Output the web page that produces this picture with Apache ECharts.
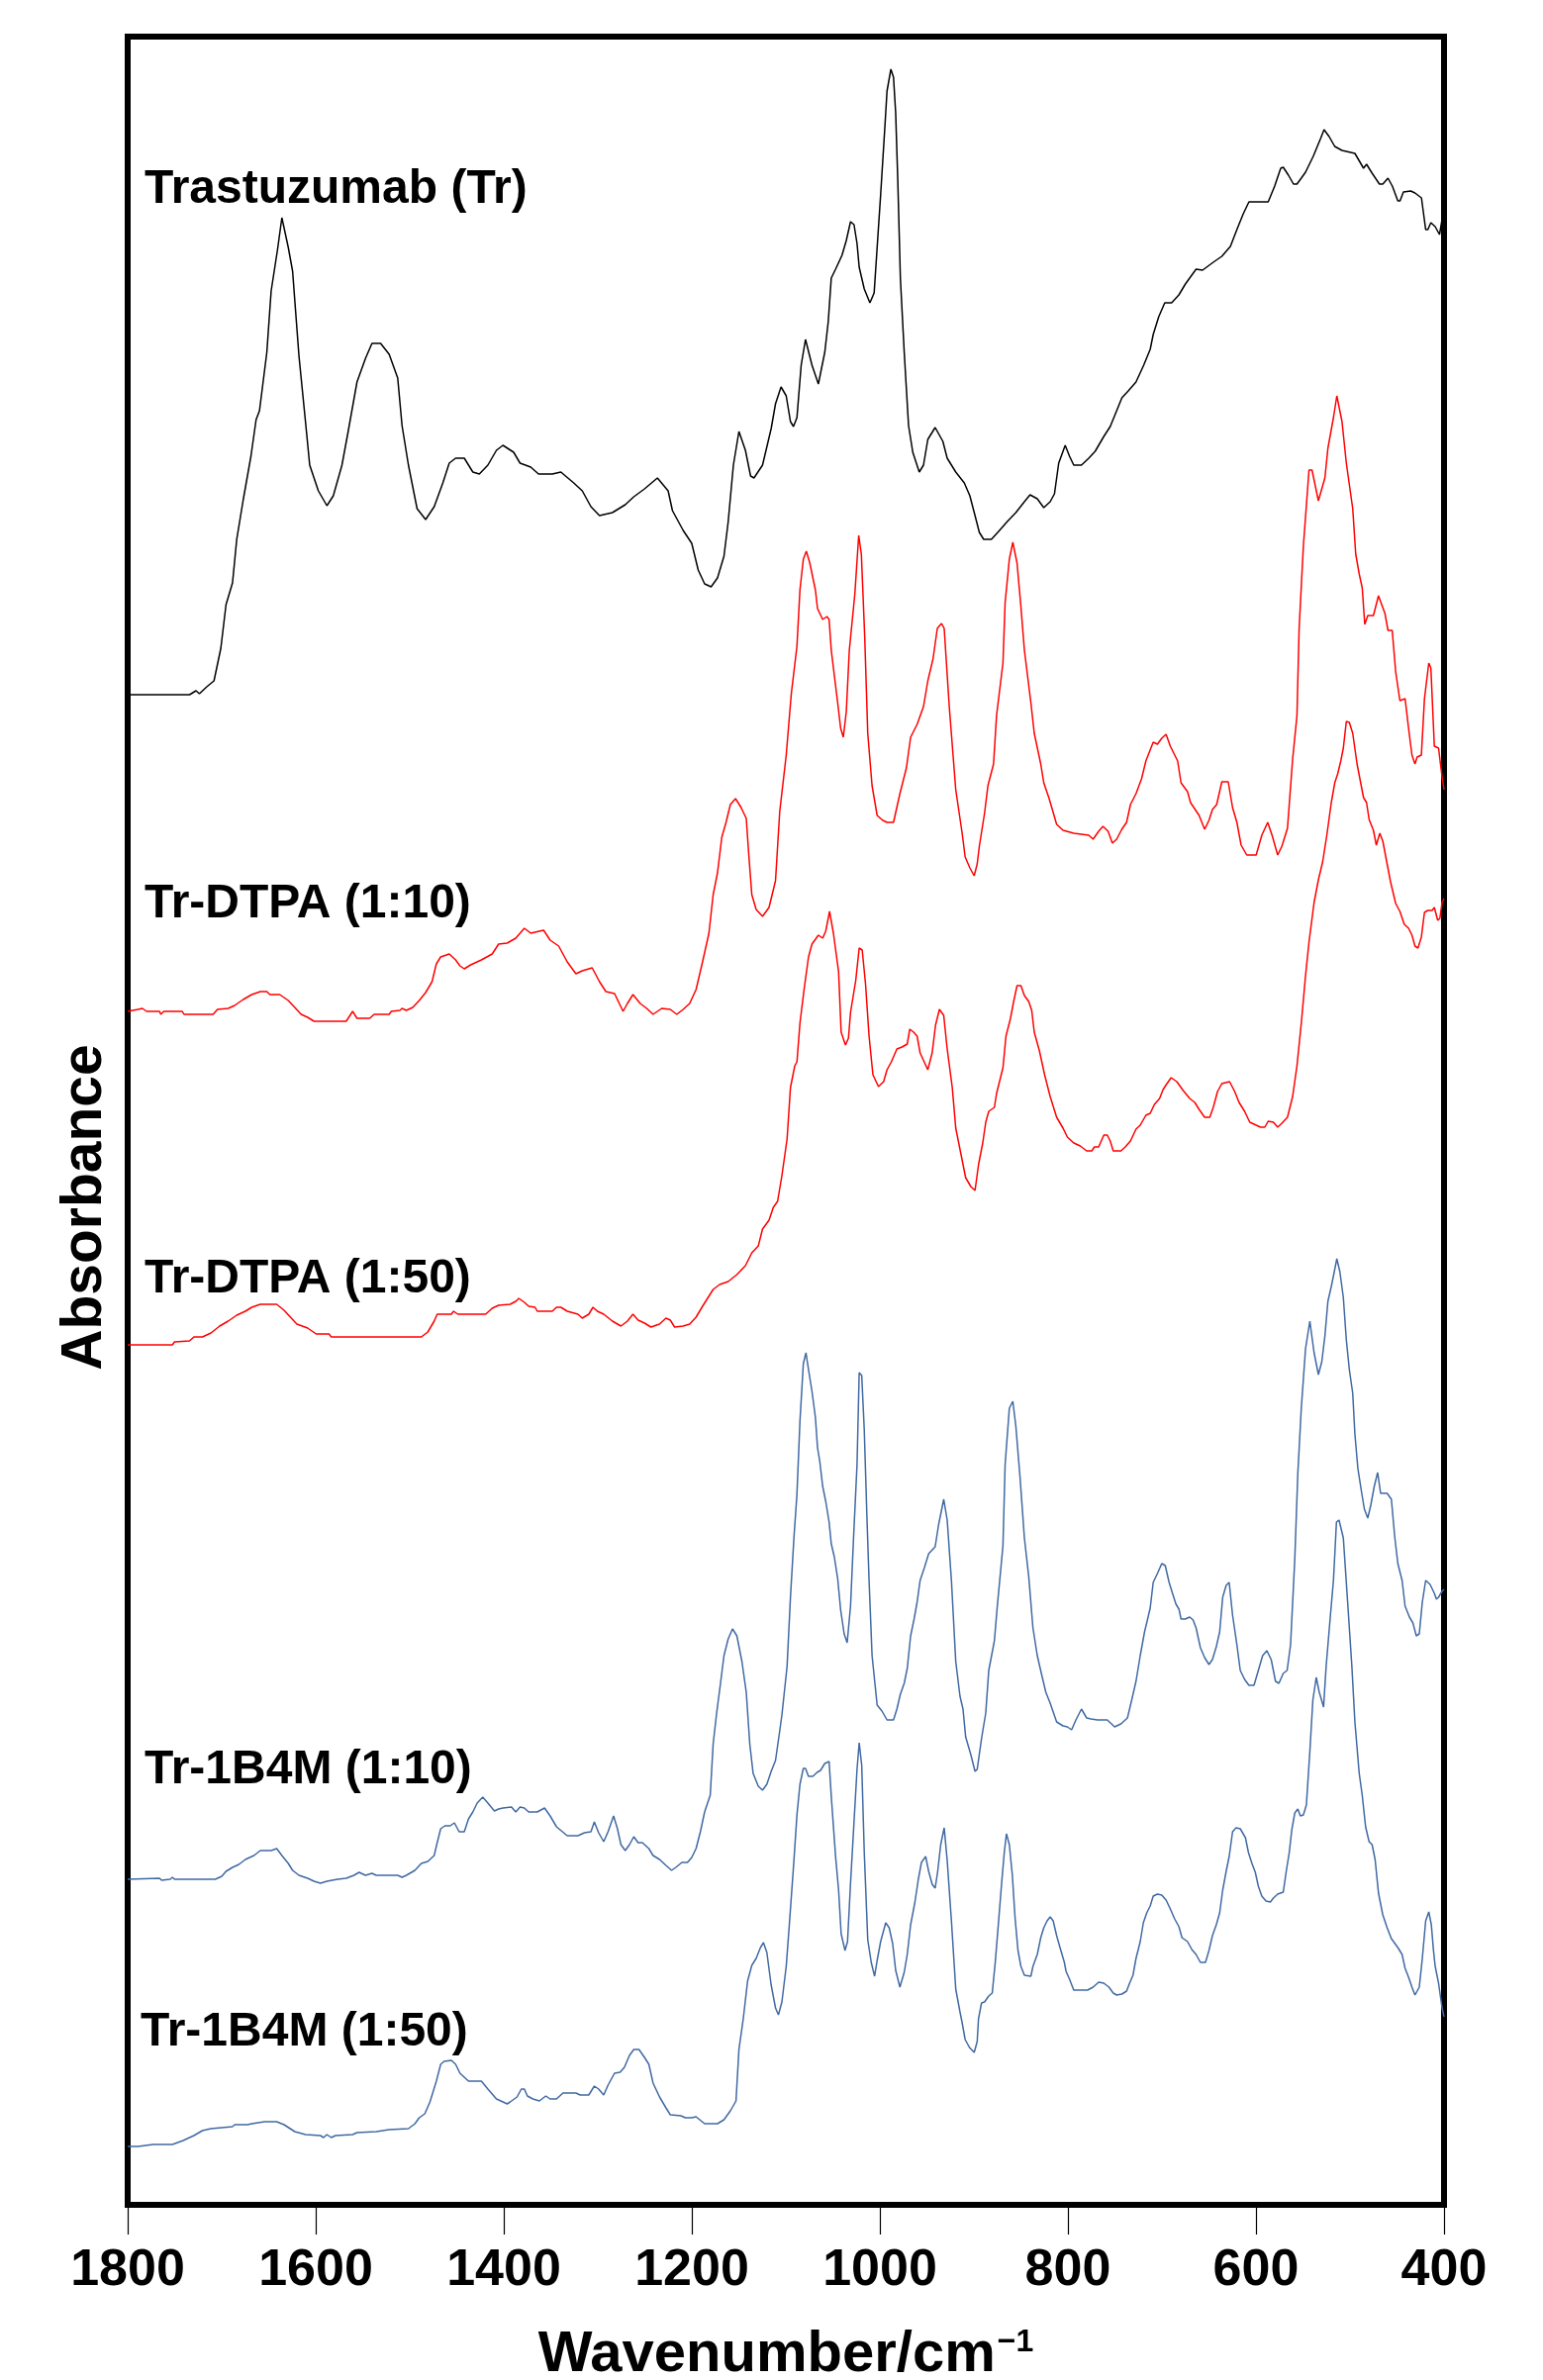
<!DOCTYPE html>
<html>
<head>
<meta charset="utf-8">
<script src="https://cdn.jsdelivr.net/npm/echarts@6/dist/echarts.min.js"></script>
<style>
  html, body { margin: 0; padding: 0; background: #fff; }
  #chart { width: 1559px; height: 2405px; }
</style>
</head>
<body>
<div id="chart"></div>
<script>
// ---- Data: [wavenumber (cm-1), absorbance (arbitrary offset units)] ----
const trastuzumab = [
[1800,1526],[1734.2,1526],[1727.3,1530],[1723.7,1527],[1715.9,1534],[1708.2,1540],[1700.9,1573],[1695.4,1617],[1688.5,1639],[1684,1683],[1677.1,1723],[1668.9,1767],[1663.4,1804],[1659.8,1813],[1652,1872],[1647.4,1934],[1640.6,1976],[1636,2008],[1629.2,1978],[1624.6,1954],[1617.8,1868],[1610.9,1802],[1606.4,1758],[1597.2,1732],[1588.1,1717],[1581.3,1727],[1572.1,1758],[1565.3,1793],[1556.1,1842],[1547,1866],[1540.2,1881],[1531,1881],[1521.9,1870],[1512.8,1846],[1508.2,1798],[1501.4,1758],[1492.2,1714],[1483.1,1703],[1474,1716],[1464.8,1740],[1458,1760],[1451.2,1765],[1442,1765],[1432.9,1751],[1426,1749],[1416.9,1758],[1407.8,1773],[1400.9,1778],[1389.5,1771],[1382.7,1760],[1371.3,1756],[1363,1749],[1348.4,1749],[1339.3,1751],[1325.6,1740],[1316.5,1732],[1307.3,1716],[1298.2,1707],[1284.5,1710],[1270.8,1718],[1261.7,1726],[1250.3,1734],[1236.6,1745],[1225.2,1732],[1220.6,1712],[1209.2,1692],[1200.1,1679],[1193.2,1652],[1186.4,1638],[1179.5,1635],[1172.7,1644],[1165.8,1666],[1161.3,1701],[1155.8,1758],[1149.9,1792],[1143,1773],[1137.5,1747],[1133.9,1745],[1124.8,1758],[1115.6,1795],[1111,1820],[1105.1,1837],
[1099.6,1828],[1095.1,1802],[1091.9,1797],[1088.2,1806],[1083.7,1859],[1079.1,1885],[1072.2,1859],[1065.4,1840],[1058.6,1872],[1054.9,1903],[1051.7,1947],[1047.1,1956],[1040.3,1970],[1035.7,1985],[1031.2,2004],[1027.5,2001],[1024.3,1982],[1022,1958],[1016.6,1936],[1010.6,1922],[1006.1,1932],[1002.9,1978],[999.2,2031],[994.6,2101],[992.4,2136],[988.3,2158],[985.5,2150],[983.2,2114],[980.9,2044],[978.2,1947],[974.1,1872],[969.5,1798],[965,1771],[958.1,1751],[953.6,1758],[949,1784],[941.2,1796],[933,1782],[928.4,1765],[919.3,1751],[910.2,1740],[904.3,1727],[898.8,1707],[894.2,1690],[889.6,1683],[881.4,1683],[873.7,1691],[864.5,1701],[855.4,1710],[846.3,1721],[840.3,1728],[832.6,1724],[825.7,1715],[818.9,1721],[814.3,1729],[809.8,1760],[802.9,1778],[798.3,1767],[793.8,1758],[785.6,1758],[777.8,1765],[771,1772],[761.8,1787],[755,1797],[749,1811],[742.6,1826],[735.8,1833],[727.6,1842],[719.4,1859],[712.5,1875],[709.3,1890],[703.4,1908],[697,1922],[689.7,1922],[682,1930],[675.1,1941],[663.7,1956],[656.8,1955],[645.4,1963],[636.3,1969],[627.2,1979],[620.3,1996],[613.5,2012],[607.5,2024],[587,2024],[580.1,2040],[573.7,2058],[571,2059],[565.5,2051],[560.1,2042],[556.4,2042],[551.8,2048],[547.3,2054],[539.1,2070],[531.3,2088],[527.6,2097],[522.2,2090],[516.2,2080],[508.5,2076],[494.8,2073],[485.6,2058],[482.4,2062],[476.5,2053],[468.7,2042],[465.1,2042],[459.6,2048],[455,2040],[449.1,2025],[446.8,2025],[443.2,2034],[435.4,2035],[430.9,2033],[424,2028],[419.5,1996],[417.2,1996],[414,2003],[409.4,1999],[404.8,1991],[401.2,2011],[400,2015]
];

const trDtpa10 = [
[1800,1206],[1789,1208],[1784.4,1209],[1779.8,1206],[1766.1,1206],[1764.8,1203],[1761.6,1206],[1741.9,1206],[1740.1,1203],[1709.1,1203],[1704.5,1208],[1693.1,1209],[1686.2,1212],[1677.1,1218],[1668,1223],[1658.9,1226],[1652,1226],[1648.8,1223],[1638.3,1223],[1629.2,1217],[1622.3,1210],[1615.5,1203],[1608.6,1200],[1601.8,1196],[1567.6,1196],[1560.7,1206],[1556.1,1199],[1542.5,1199],[1537.9,1203],[1521.9,1203],[1519.6,1206],[1510.5,1207],[1508.2,1209],[1503.6,1207],[1496.8,1210],[1489.9,1217],[1483.1,1225],[1476.3,1236],[1471.7,1254],[1467.1,1261],[1458,1264],[1451.2,1258],[1446.6,1252],[1442,1249],[1435.2,1253],[1423.8,1258],[1412.3,1264],[1405.5,1274],[1396.4,1275],[1387.2,1280],[1378.1,1290],[1371.3,1285],[1357.6,1288],[1350.7,1278],[1341.6,1272],[1332.5,1256],[1323.3,1244],[1316.5,1247],[1306,1250],[1298.2,1236],[1291.4,1226],[1282.2,1224],[1273.1,1206],[1268.5,1214],[1262.6,1223],[1254.9,1214],[1248,1209],[1241.2,1203],[1232,1209],[1222.9,1208],[1216,1203],[1209.2,1208],[1202.3,1214],[1195.5,1228],[1188.6,1256],[1181.8,1285],[1177.3,1324],[1172.7,1346],[1168.1,1382],[1163.6,1397],[1159,1415],[1153.5,1421],[1147.6,1412],[1142.1,1401],[1139.4,1364],[1136.2,1324],[1131.6,1309],[1124.8,1302],[1117.9,1311],[1111,1338],[1106.5,1408],
[1099.6,1465],[1094.2,1527],[1088.2,1575],[1085,1632],[1081.4,1663],[1078.2,1671],[1074.5,1659],[1068.6,1632],[1066.3,1613],[1060.8,1602],[1056.3,1605],[1054,1602],[1051.7,1571],[1044.9,1518],[1041.7,1492],[1038.9,1483],[1035.7,1509],[1032.5,1571],[1026.6,1628],[1022.5,1687],[1019.7,1668],[1016.1,1584],[1012.9,1487],[1008.3,1434],[1002.9,1404],[996.9,1399],[992.4,1397],[985.5,1397],[978.7,1426],[971.8,1452],[967.3,1483],[960.4,1496],[953.6,1514],[949,1540],[943.5,1562],[938.9,1593],[934.4,1598],[931.6,1593],[926.2,1514],[919.3,1430],[912.5,1386],[909.3,1362],[904.3,1351],[899.7,1343],[896.5,1355],[894.2,1373],[888.7,1406],[885.1,1434],[879.1,1456],[875.9,1505],[869.1,1558],[866.8,1619],[862.3,1663],[858.6,1680],[854.1,1659],[850,1615],[846.3,1571],[839.4,1518],[835.8,1487],[828.9,1456],[825.7,1437],[820.3,1422],[816.6,1410],[812,1395],[805.2,1389],[793.8,1386],[777.8,1384],[773.2,1380],[767.3,1388],[762.7,1393],[757.3,1388],[752.7,1376],[748.1,1380],[742.7,1390],[737.6,1397],[733.5,1415],[727.6,1426],[721.7,1441],[717.1,1459],[709.3,1478],[704.8,1476],[700.2,1482],[695.6,1486],[691.1,1474],[683.3,1459],[679.7,1437],[672.8,1428],[669.6,1417],[660.5,1404],[654.6,1390],[650,1399],[646.3,1410],[641.8,1415],[636.3,1438],[629.5,1438],[624.9,1412],[620.3,1397],[615.8,1374],[609.8,1364],[599.8,1364],[593.8,1384],[587.5,1397],[582.9,1384],[576.9,1364],[572.4,1373],[566.5,1391],[561,1461],[556.4,1505],[554.1,1593],[549.6,1676],[543.6,1753],[540.4,1753],[533.6,1722],[526.7,1745],[523.5,1775],[517.6,1806],[514,1828],[508.5,1802],[503.9,1760],[497.1,1714],[493.9,1668],[490.2,1648],[487,1634],[484.3,1597],[481.1,1606],[475.1,1606],[469.7,1626],[462.8,1608],[459.6,1591],[455.1,1591],[451.4,1549],[446.9,1520],[441.4,1522],[437.7,1492],[434.1,1465],[430.9,1456],[428.6,1463],[424.1,1465],[420.8,1522],[416.2,1558],[414,1553],[410.3,1474],[405.8,1472],[402.1,1443],[400,1430]
];

const trDtpa50 = [
[1800,869],[1752.4,869],[1750.2,872],[1734.2,873],[1729.6,877],[1720.5,877],[1711.4,881],[1702.2,888],[1693.1,893],[1684,899],[1674.8,903],[1668,907],[1658.9,910],[1641.5,910],[1633.7,904],[1626.9,897],[1620.1,890],[1608.6,886],[1599.5,880],[1585.8,880],[1583.5,877],[1487.7,877],[1480.8,882],[1474,893],[1470.8,900],[1455.7,900],[1453.4,903],[1448.9,900],[1419.2,900],[1412.3,906],[1405.5,909],[1393.2,910],[1387.2,913],[1384,916],[1378.1,912],[1373.5,908],[1366.7,907],[1364.4,903],[1348.4,903],[1343.9,907],[1339.3,907],[1332.5,903],[1321.1,900],[1316.5,896],[1309.6,900],[1305.1,907],[1300.5,903],[1293.7,900],[1284.5,893],[1275.4,888],[1268.5,893],[1262.6,900],[1257.1,894],[1250.3,891],[1243.5,887],[1234.3,890],[1227.5,896],[1222.9,894],[1218.3,887],[1209.2,888],[1202.3,890],[1195.5,897],[1188.6,908],[1177.3,925],[1170.4,930],[1161.3,933],[1152.1,940],[1143,949],[1136.2,962],[1129.3,969],[1124.8,986],[1117.9,995],[1113.3,1008],[1108.8,1014],[1104.2,1040],
[1098.7,1077],[1095.1,1129],[1090.5,1151],[1088.2,1155],[1085,1194],[1080.5,1229],[1075.9,1261],[1072.2,1274],[1065.4,1283],[1060.8,1280],[1057.6,1287],[1053.5,1307],[1049.4,1285],[1043.9,1246],[1041.2,1185],[1036.6,1172],[1033.4,1179],[1031.2,1205],[1025.7,1237],[1022,1270],[1018.8,1268],[1015.2,1233],[1011.5,1181],[1007.4,1142],[1001.5,1130],[996,1135],[992.4,1147],[987.8,1155],[981.9,1168],[976.4,1170],[970.9,1173],[968.2,1188],[964.1,1185],[960.4,1181],[957.2,1164],[949,1147],[944.4,1164],[940.8,1192],[936.7,1208],[932.1,1202],[928.4,1168],[923,1129],[919.3,1088],[913.4,1060],[908.8,1038],[903.3,1029],[898.8,1025],[895.1,1051],[890.6,1073],[887.4,1094],[884.2,1105],[878.2,1109],[875.9,1123],[869.1,1149],[865.9,1181],[861.3,1198],[857.7,1216],[854.1,1232],[850,1232],[846.3,1222],[841.7,1216],[838.5,1207],[835.8,1185],[830.3,1166],[824.8,1142],[818.9,1120],[812,1099],[805.2,1088],[800.6,1079],[793.8,1073],[786.9,1070],[780.1,1065],[774.6,1065],[771.9,1069],[767.3,1069],[761.8,1081],[758.2,1081],[755,1075],[751.8,1065],[743.6,1065],[739,1069],[733.5,1075],[727.6,1087],[723.1,1091],[717.1,1101],[712.5,1103],[708,1112],[702.5,1118],[698.8,1127],[694.7,1133],[690.2,1139],[684.2,1135],[677.4,1126],[670.5,1118],[665.1,1114],[660.5,1107],[654.6,1099],[649.1,1099],[645.4,1109],[640.9,1125],[636.3,1133],[628.1,1135],[622.6,1125],[618,1114],[612.1,1105],[606.6,1094],[599.8,1091],[595.2,1089],[590.6,1089],[587,1095],[581.5,1094],[576.9,1089],[572.4,1093],[566.5,1099],[561,1120],[556.4,1151],[551.8,1194],[547.3,1242],[543.6,1276],[538.2,1316],[533.6,1339],[529.1,1357],[524.5,1385],[519.9,1417],[516.2,1437],[513.1,1446],[509.8,1459],[507.1,1472],[503.9,1499],[500.7,1498],[497.1,1487],[492.5,1456],[485.6,1422],[482.4,1417],[479.7,1400],[475.1,1389],[472,1374],[468.3,1386],[465.1,1378],[460.5,1355],[456.9,1337],[451.4,1315],[446.9,1307],[442.3,1294],[437.7,1290],[434.1,1283],[430.9,1272],[427.7,1270],[424.1,1281],[420.8,1306],[417.2,1308],[412.6,1308],[410.3,1311],[406.7,1298],[404.4,1300],[402.1,1316],[400,1320]
];

const tr1b4m10 = [
[1800,329],[1766.1,330],[1763.9,328],[1754.7,329],[1752.4,331],[1750.2,329],[1706.8,329],[1699.9,332],[1695.4,337],[1688.5,341],[1681.7,344],[1674.8,349],[1665.7,353],[1658.9,358],[1647.4,358],[1641.5,360],[1636,353],[1629.2,345],[1624.6,338],[1617.8,333],[1608.6,330],[1601.8,327],[1595,325],[1588.1,327],[1576.7,329],[1567.6,330],[1559.3,333],[1553.9,336],[1547,333],[1540.2,335],[1535.6,333],[1512.8,333],[1508.2,331],[1503.6,333],[1494.5,338],[1487.7,345],[1480.8,347],[1474,353],[1470.8,366],[1467.1,380],[1462.6,383],[1457,383],[1452.5,386],[1447.5,377],[1442,377],[1437.5,390],[1432.9,397],[1428.3,406],[1422.4,412],[1416.9,406],[1410,398],[1405.5,400],[1400.9,401],[1391.8,402],[1387.2,397],[1382.7,402],[1378.1,401],[1373.5,397],[1364.4,397],[1356.6,401],[1350.7,393],[1343.9,382],[1332.5,373],[1321.1,373],[1314.2,376],[1307.3,377],[1303.7,387],[1299.1,376],[1293.7,367],[1289.1,377],[1283.2,393],[1279.1,380],[1275.4,364],[1270.8,358],[1266.3,364],[1261.7,372],[1257.1,366],[1252.6,366],[1245.7,360],[1241.2,353],[1234.3,349],[1227.5,343],[1221.5,338],[1217,341],[1210.6,346],[1204.7,346],[1200.1,351],[1195.5,360],[1190.9,377],[1186.4,397],[1180.4,414],[1177.3,466],[1173.6,497],[1169.5,527],[1165.8,555],[1161.3,572],[1156.7,582],[1152.1,575],[1146.7,549],[1142.1,518],[1138.4,466],[1134.8,436],[1129.3,423],[1124.8,419],[1120.2,425],[1115.6,438],[1111,449],[1106.5,479],[1104.2,495],
[1098.7,544],[1095.1,614],[1091.4,674],[1088.2,718],[1085,792],[1081.4,850],[1078.6,861],[1075.9,844],[1072.2,822],[1068.6,796],[1066.3,765],[1064,752],[1060.8,726],[1057.6,711],[1054,690],[1051.7,668],[1048.5,655],[1044.9,633],[1041.7,601],[1038,577],[1034.8,568],[1031.2,605],[1028,674],[1024.3,748],[1022,841],[1019.3,838],[1016.6,783],[1013.8,696],[1011.5,631],[1008.3,555],[1002.9,505],[997.8,499],[992.4,490],[985.5,490],[981.9,501],[978.2,516],[974.1,527],[970.9,542],[967.3,575],[963.6,592],[960.4,609],[957.2,631],[952.6,644],[948.1,658],[941.2,665],[937.6,687],[932.1,713],[928.4,692],[923.9,631],[919.3,549],[914.8,514],[911.6,501],[908.8,473],[903.3,455],[898.8,438],[896.5,440],[891.9,471],[887.4,497],[884.2,540],[878.2,570],[875.1,605],[869.1,666],[866.8,748],[862.3,805],[858.6,812],[855.4,787],[850.9,735],[846.3,674],[841.7,635],[837.2,583],[832.6,555],[828,536],[823.5,518],[818.9,507],[812,488],[805.2,484],[800.6,483],[796.1,480],[791.5,490],[785.6,501],[780.1,492],[775.5,491],[768.7,490],[758.2,490],[753.6,486],[750.4,483],[743.6,486],[736.7,492],[732.2,510],[727.6,529],[723.1,555],[718.5,579],[712.5,603],[709.3,629],[704.8,638],[700.2,648],[696.5,646],[692.4,629],[688.8,618],[685.1,607],[681.9,602],[679.7,592],[675.1,592],[670.5,594],[666.9,591],[663.7,583],[659.1,563],[654.6,553],[650,546],[646.3,551],[642.2,564],[638.6,579],[635.4,614],[631.7,626],[628.5,629],[624.9,596],[620.3,566],[616.7,540],[612.1,531],[607.5,525],[602.1,525],[597.5,540],[592.9,555],[588.4,560],[583.8,551],[579.2,529],[575.6,527],[571,537],[566.9,540],[563.2,566],[558.7,653],[555.5,739],[551.8,805],[547.3,865],[542.7,893],[538.2,861],[533.6,839],[530,852],[526.7,878],[523.5,913],[519.9,928],[516.7,943],[514,956],[510.8,943],[507.1,917],[503.9,874],[500.7,844],[497.1,820],[494.8,779],[491.6,744],[488,722],[484.7,703],[481.1,694],[477.9,707],[474.2,726],[470.6,740],[467.4,719],[460.5,719],[456,713],[452.3,674],[449.1,648],[444.6,631],[441.4,605],[436.8,594],[433.1,588],[429.5,575],[426.3,577],[423.1,609],[419.5,631],[414.9,627],[410.3,618],[408.1,612],[405.8,614],[402.1,620],[400,622]
];

const tr1b4m50 = [
[1800,59],[1789,59],[1773,61],[1752.4,61],[1741,65],[1729.6,70],[1720.5,75],[1711.4,77],[1688.5,79],[1686.2,81],[1672.5,81],[1668,82],[1654.3,84],[1641.5,84],[1633.7,81],[1622.3,74],[1610.9,71],[1595,70],[1591.7,68],[1588.1,71],[1583.5,68],[1579,70],[1560.7,71],[1556.1,73],[1535.6,74],[1521.9,76],[1501.4,77],[1494.5,82],[1489.9,88],[1484,92],[1478.5,104],[1471.7,125],[1467.1,142],[1463.5,145],[1455.7,146],[1451.2,142],[1446.6,133],[1437.5,125],[1423.8,125],[1416.9,117],[1407.8,107],[1400.9,104],[1396.4,102],[1393.2,104],[1385.9,109],[1381.3,117],[1378.1,117],[1374.9,110],[1369,107],[1362.1,105],[1355.3,110],[1350.7,107],[1343.9,107],[1337,113],[1323.3,113],[1318.7,111],[1309.6,111],[1303.7,120],[1299.1,117],[1293.7,111],[1289.1,121],[1282.2,133],[1276.3,134],[1271.7,139],[1266.3,151],[1261.7,157],[1256.2,157],[1250.3,149],[1245.7,142],[1241.2,123],[1234.3,109],[1227.5,98],[1222.9,91],[1211.5,90],[1206.9,88],[1200.1,88],[1195.5,89],[1186.4,82],[1172.7,82],[1165.8,86],[1159,95],[1153,105],[1149.9,157],[1145.3,188],[1140.7,226],[1136.2,242],[1131.6,249],[1127,260],[1123.8,265],[1120.2,255],[1115.6,222],[1111,199],[1107.9,192],[1104.2,205],
[1099.6,241],[1096,287],[1091.4,348],[1088.2,394],[1085,425],[1081.4,441],[1079.1,441],[1075.9,433],[1071.3,433],[1066.8,437],[1063.1,439],[1058.6,446],[1054,448],[1051.7,413],[1047.1,352],[1043.9,318],[1041.2,274],[1037.1,257],[1034.4,266],[1031.2,325],[1027.5,387],[1024.3,440],[1022,467],[1019.3,444],[1016.6,356],[1012.9,268],[1009.2,245],[1005.6,231],[1002.9,247],[999.2,266],[993.8,285],[990.1,280],[986.4,264],[983.2,237],[978.7,220],[974.1,235],[970.9,253],[967.3,283],[962.7,306],[959.1,329],[955.8,346],[951.3,352],[948.1,337],[944.4,324],[941.2,320],[938.5,337],[935.3,364],[931.6,381],[928.4,348],[923.9,287],[919.3,218],[914.8,195],[912.5,184],[909.3,167],[904.7,159],[899.7,154],[896.5,165],[895.1,188],[891.9,204],[888.7,205],[884.2,211],[880.5,214],[877.3,245],[873.7,287],[870.5,325],[867.7,356],[865.4,375],[862.3,364],[859.1,333],[856.3,291],[853.1,257],[850,241],[846.3,232],[839.4,231],[837.2,241],[832.6,253],[828.9,270],[825.7,280],[822.1,287],[818.9,291],[815.7,287],[812,272],[807.5,257],[803.8,245],[802,236],[798.3,228],[793.8,217],[779.2,217],[773.2,220],[767.3,225],[761.8,224],[756.4,220],[751.8,214],[748.1,212],[742.6,213],[737.6,216],[734.4,224],[730.8,232],[727.6,249],[723.1,266],[719.8,285],[716.2,295],[712.5,302],[709.3,312],[704.8,314],[700.2,313],[695.6,308],[691.1,299],[686.5,289],[681.9,281],[678.7,270],[672.8,266],[668.2,258],[663.7,253],[659.1,245],[653.7,245],[650,257],[646.3,272],[642.2,283],[638.6,295],[635.4,318],[631.7,337],[628.5,352],[624.9,377],[621.2,381],[616.7,380],[611.2,371],[608,356],[604.3,345],[600.7,336],[597.5,322],[593.8,312],[589.3,307],[584.7,306],[581.5,310],[576.9,314],[571,316],[567.8,337],[564.6,356],[561.9,379],[558.7,396],[555.5,400],[552.8,393],[549.6,394],[546.4,404],[542.7,458],[539.5,510],[535.9,533],[532.7,518],[528.1,503],[525.4,544],[520.8,596],[517.6,631],[514.4,690],[511.7,692],[507.1,674],[502.5,609],[498,544],[494.8,488],[490.2,436],[487,414],[483.4,382],[479.7,367],[476.5,364],[473.3,349],[469.7,315],[465.1,293],[460.5,280],[456,269],[449.1,260],[444.6,253],[441.4,239],[437.7,230],[434.1,220],[430.9,212],[426.3,220],[423.1,249],[419.5,287],[416.2,296],[413.5,283],[411.2,257],[409.4,241],[405.8,224],[402.1,199],[400,190]
];

const traceNames = ['Trastuzumab (Tr)', 'Tr-DTPA (1:10)', 'Tr-DTPA (1:50)', 'Tr-1B4M (1:10)', 'Tr-1B4M (1:50)'];
const traceData = [trastuzumab, trDtpa10, trDtpa50, tr1b4m10, tr1b4m50];
const xRange = { min: 400, max: 1800, interval: 200 };
const yRange = { min: 0, max: 2191 };

// ---- Styles / layout ----
const FONT = '"Liberation Sans", Arial, Helvetica, sans-serif';
const traceColors = ['#000000', '#ff0000', '#ff0000', '#4069a3', '#4069a3'];
const labelPos = [[146, 192], [146, 914], [146, 1293], [146, 1789], [142, 2054]];

const chart = echarts.init(document.getElementById('chart'), null, { renderer: 'canvas' });

const option = {
  animation: false,
  backgroundColor: '#ffffff',
  grid: {
    left: 129, right: 100, top: 37, bottom: 177,
    containLabel: false,
    outerBoundsMode: 'none',
    show: true, borderColor: '#000', borderWidth: 6, backgroundColor: 'transparent'
  },
  xAxis: {
    type: 'value',
    min: xRange.min, max: xRange.max, interval: xRange.interval,
    inverse: true,
    axisLine: { show: true, onZero: false, lineStyle: { color: '#000', width: 6 } },
    axisTick: { show: true, inside: false, length: 30, lineStyle: { color: '#000', width: 1.2 } },
    axisLabel: {
      color: '#000', fontSize: 52, fontWeight: 'bold', fontFamily: FONT, margin: 41,
      formatter: v => String(v)
    },
    splitLine: { show: false },
    name: '{a|Wavenumber/cm}{s|\u22121}',
    nameLocation: 'middle',
    nameGap: 123,
    nameMoveOverlap: false,
    nameTextStyle: {
      rich: {
        a: { fontSize: 58, fontWeight: 'bold', fontFamily: FONT, color: '#000' },
        s: { fontSize: 32, fontWeight: 'bold', fontFamily: FONT, color: '#000', verticalAlign: 'top', padding: [0, 0, 0, 2] }
      }
    }
  },
  yAxis: {
    type: 'value',
    min: yRange.min, max: yRange.max,
    axisLine: { show: true, lineStyle: { color: '#000', width: 6 } },
    axisTick: { show: false },
    axisLabel: { show: false },
    splitLine: { show: false }
  },
  series: traceData.map((d, i) => ({
    name: traceNames[i],
    type: 'line',
    data: d,
    showSymbol: false,
    symbol: 'none',
    smooth: false,
    lineStyle: { color: traceColors[i], width: 1.5 },
    z: 3
  })),
  graphic: [
    ...traceNames.map((t, i) => ({
      type: 'text',
      x: labelPos[i][0], y: labelPos[i][1],
      z: 10,
      style: {
        text: t,
        font: 'bold 48px ' + FONT,
        fill: '#000',
        align: 'left',
        verticalAlign: 'middle'
      }
    })),
    {
      type: 'text',
      x: 86, y: 1220,
      rotation: Math.PI / 2,
      z: 10,
      style: {
        text: 'Absorbance',
        font: 'bold 57px ' + FONT,
        fill: '#000',
        align: 'center',
        verticalAlign: 'middle'
      }
    }
  ]
};

chart.setOption(option);
</script>
</body>
</html>
